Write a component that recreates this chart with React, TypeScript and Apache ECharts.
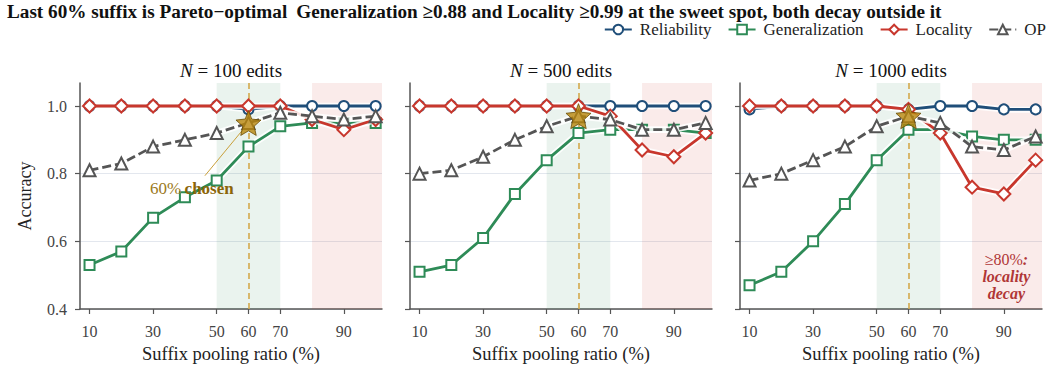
import React, { useEffect, useRef } from "react";
import * as echarts from "echarts";

const ratios = [10, 20, 30, 40, 50, 60, 70, 80, 90, 100];
const xTickValues = [10, 30, 50, 60, 70, 90];
const yTickValues = [0.4, 0.6, 0.8, 1.0];
const panelSizes = ["100", "500", "1000"];
const seriesNames = ["Reliability", "Generalization", "Locality", "OP"];

// N = 100
const rel100 = [1, 1, 1, 1, 1, 0.99, 1, 1, 1, 1];
const gen100 = [0.53, 0.57, 0.67, 0.73, 0.78, 0.88, 0.94, 0.95, 0.95, 0.95];
const loc100 = [1, 1, 1, 1, 1, 1, 1, 0.96, 0.93, 0.96];
const op100 = [0.81, 0.83, 0.88, 0.9, 0.92, 0.95, 0.98, 0.97, 0.96, 0.97];
// N = 500
const rel500 = [1, 1, 1, 1, 1, 1, 1, 1, 1, 1];
const gen500 = [0.51, 0.53, 0.61, 0.74, 0.84, 0.92, 0.93, 0.93, 0.93, 0.92];
const loc500 = [1, 1, 1, 1, 1, 1, 0.97, 0.87, 0.85, 0.92];
const op500 = [0.8, 0.81, 0.85, 0.9, 0.94, 0.97, 0.96, 0.93, 0.93, 0.95];
// N = 1000
const rel1000 = [0.99, 1, 1, 1, 1, 0.99, 1, 1, 0.99, 0.99];
const gen1000 = [0.47, 0.51, 0.6, 0.71, 0.84, 0.93, 0.93, 0.91, 0.9, 0.9];
const loc1000 = [1, 1, 1, 1, 1, 0.99, 0.92, 0.76, 0.74, 0.84];
const op1000 = [0.78, 0.8, 0.84, 0.88, 0.94, 0.97, 0.95, 0.88, 0.87, 0.91];

const chosenRatio = 60;
const sweetSpan = [50, 70];
const decaySpan = [80, 102];

const panels = [
  [rel100, gen100, loc100, op100],
  [rel500, gen500, loc500, op500],
  [rel1000, gen1000, loc1000, op1000],
];

const FONT = "'Liberation Serif', 'Times New Roman', Times, serif";
const colors = ["#1f4e79", "#2e8b57", "#c8372d", "#555555"];
const symbols = ["circle", "rect", "diamond", "triangle"];
const STAR =
  "path://M12 0 L15.09 8.26 L24 9.27 L17.45 15.14 L19.42 24 L12 19.6 L4.58 24 L6.55 15.14 L0 9.27 L8.91 8.26 Z";

const gridLefts = [80, 410, 740];
const GRID_W = 302;
const GRID_TOP = 83;
const GRID_H = 226;

export default function App() {
  const ref = useRef<HTMLDivElement>(null);
  useEffect(() => {
    if (!ref.current) return;
    const chart = echarts.init(ref.current, null, { renderer: "svg" });

    const grids = gridLefts.map((l) => ({ left: l, top: GRID_TOP, width: GRID_W, height: GRID_H }));
    const xAxes = gridLefts.map((_, i) => ({
      type: "value",
      gridIndex: i,
      min: 7,
      max: 102,
      axisLine: { show: true, lineStyle: { color: "#555", width: 1.5 } },
      axisTick: { show: true, customValues: xTickValues, length: 5, lineStyle: { color: "#555", width: 1.2 } },
      axisLabel: { customValues: xTickValues, color: "#444", fontSize: 16, fontFamily: FONT, margin: 14 },
      splitLine: { show: false },
      name: "Suffix pooling ratio (%)",
      nameLocation: "middle",
      nameGap: 35,
      nameTextStyle: { fontSize: 18.5, color: "#222", fontFamily: FONT },
    }));
    const yAxes = gridLefts.map((_, i) => ({
      type: "value",
      gridIndex: i,
      min: 0.4,
      max: 1.068,
      interval: 0.2,
      axisLine: { show: true, lineStyle: { color: "#555", width: 1.5 } },
      axisTick: { show: true, customValues: yTickValues, length: 5, lineStyle: { color: "#555", width: 1.2 } },
      axisLabel: {
        show: i === 0,
        customValues: yTickValues,
        formatter: (v: number) => v.toFixed(1),
        color: "#444",
        fontSize: 16,
        fontFamily: FONT,
        margin: 13,
      },
      splitLine: { show: true, lineStyle: { color: "#e3e7ee", width: 1 } },
      name: i === 0 ? "Accuracy" : "",
      nameLocation: "middle",
      nameGap: 46,
      nameTextStyle: { fontSize: 18, color: "#222", fontFamily: FONT },
    }));

    const series: any[] = [];
    panels.forEach((vals, p) => {
      const bg: any = {
        type: "line",
        name: "bg" + p,
        xAxisIndex: p,
        yAxisIndex: p,
        data: [],
        z: 1,
        silent: true,
        markArea: {
          silent: true,
          data: [
            [{ xAxis: sweetSpan[0], itemStyle: { color: "rgba(46,139,87,0.10)" } }, { xAxis: sweetSpan[1] }],
            [{ xAxis: decaySpan[0], itemStyle: { color: "rgba(204,58,47,0.10)" } }, { xAxis: decaySpan[1] }],
          ],
        },
        markLine: {
          silent: true,
          symbol: "none",
          label: { show: false },
          data: [
            { xAxis: chosenRatio, lineStyle: { color: "#d4a94c", type: [6, 4], width: 1.6 } },
            ...(p === 0
              ? [
                  [
                    { coord: [46.3, 0.794], lineStyle: { color: "#c9a03a", type: "solid", width: 1 } },
                    { coord: [chosenRatio, vals[3][ratios.indexOf(chosenRatio)]] },
                  ],
                ]
              : []),
          ],
        },
      };
      series.push(bg);
      vals.forEach((arr, s) => {
        const data = ratios.map((r, k) => [r, arr[k]]);
        series.push({
          type: "line",
          name: seriesNames[s] + "_halo",
          xAxisIndex: p,
          yAxisIndex: p,
          data,
          symbol: "none",
          silent: true,
          z: 2 + s * 2,
          lineStyle: { color: "rgba(255,255,255,0.85)", width: 6.5 },
        });
        series.push({
          type: "line",
          name: seriesNames[s],
          xAxisIndex: p,
          yAxisIndex: p,
          data,
          symbol: symbols[s],
          symbolSize: s === 2 ? 13 : s === 3 ? 12 : 10,
          z: 3 + s * 2,
          itemStyle: { color: "#fff", borderColor: colors[s], borderWidth: 2 },
          lineStyle: { color: colors[s], width: 2.8, type: s === 3 ? [9, 4] : "solid" },
        });
      });
      const ci = ratios.indexOf(chosenRatio);
      series.push({
        type: "scatter",
        name: "chosen" + p,
        xAxisIndex: p,
        yAxisIndex: p,
        data: [[chosenRatio, vals[3][ci]]],
        symbol: STAR,
        symbolSize: 25,
        z: 20,
        itemStyle: { color: "#b8860b", borderColor: "#6b4e06", borderWidth: 1 },
      });
    });

    const titleGraphics = gridLefts.map((l, i) => ({
      type: "text",
      x: l + GRID_W / 2,
      y: 70,
      style: {
        text: `{i|N} = ${panelSizes[i]} edits`,
        align: "center",
        verticalAlign: "middle",
        fontSize: 19,
        fontFamily: FONT,
        fill: "#111",
        rich: { i: { fontStyle: "italic", fontSize: 19, fontFamily: FONT, fill: "#111" } },
      },
    }));

    const option: any = {
      animation: false,
      backgroundColor: "#fff",
      textStyle: { fontFamily: FONT },
      title: {
        left: 7,
        top: 2,
        padding: 0,
        text: "{b|Last 60% suffix is Pareto\u2212optimal}  {r|Generalization \u22650.88 and Locality \u22650.99 at the sweet spot, both decay outside it}",
        textStyle: {
          lineHeight: 19,
          rich: {
            b: { fontWeight: "bold", fontSize: 19.2, fontFamily: FONT, color: "#111", lineHeight: 19 },
            r: { fontSize: 19.2, fontFamily: FONT, color: "#111", lineHeight: 19 },
          },
        },
      },
      legend: {
        data: seriesNames,
        right: 4,
        top: 21,
        itemWidth: 27,
        itemHeight: 12,
        itemGap: 16,
        padding: [0, 0, 0, 0],
        textStyle: { fontSize: 17, lineHeight: 16, fontFamily: FONT, color: "#222", padding: [0, 0, 0, 3] },
      },
      grid: grids,
      xAxis: xAxes,
      yAxis: yAxes,
      series,
      graphic: titleGraphics,
    };
    chart.setOption(option);

    const t1 = chart.convertToPixel({ gridIndex: 0 }, [42.2, 0.756]) as number[];
    const t3 = chart.convertToPixel({ gridIndex: 2 }, [90.8, 0.497]) as number[];
    chart.setOption({
      graphic: [
        ...titleGraphics,
        {
          type: "text",
          x: t1[0],
          y: t1[1],
          z: 30,
          style: {
            text: "{a|60%} {b|chosen}",
            align: "center",
            verticalAlign: "middle",
            rich: {
              a: { fontSize: 17, fontFamily: FONT, fill: "#9c7a22" },
              b: { fontSize: 17, fontFamily: FONT, fontWeight: "bold", fill: "#8b6508" },
            },
          },
        },
        {
          type: "text",
          x: t3[0],
          y: t3[1],
          z: 30,
          style: {
            text: "{a|\u226580%}{b|:}\n{b|locality}\n{b|decay}",
            align: "center",
            verticalAlign: "middle",
            lineHeight: 17,
            rich: {
              a: { fontSize: 16, fontFamily: FONT, fill: "#b03636", lineHeight: 17 },
              b: { fontSize: 16, fontFamily: FONT, fontWeight: "bold", fontStyle: "italic", fill: "#b03636", lineHeight: 17 },
            },
          },
        },
      ],
    });

    return () => chart.dispose();
  }, []);
  return <div ref={ref} style={{ position: "fixed", left: 0, top: 0, width: 1050, height: 372 }} />;
}
